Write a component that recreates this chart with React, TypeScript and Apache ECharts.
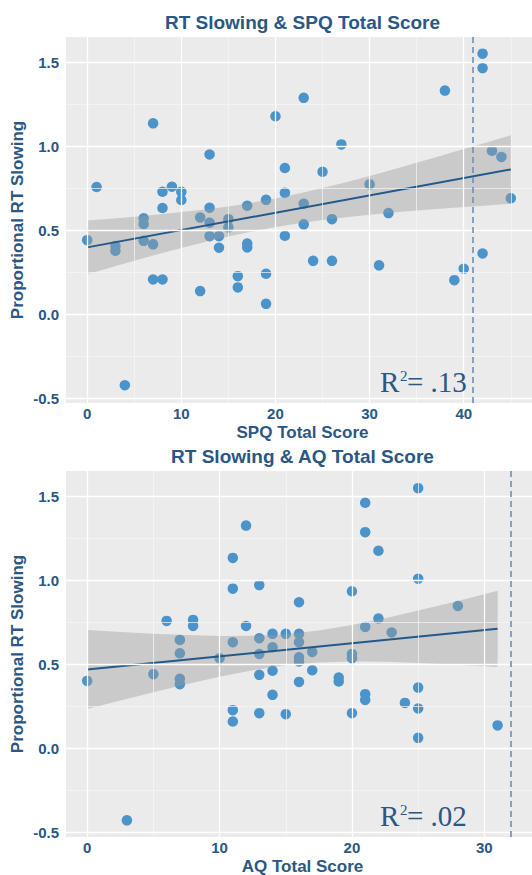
import React, { useEffect, useRef } from "react";
import * as echarts from "echarts";

// ---------- data ----------
const spqX = [0,1,3,3,4,6,6,6,7,7,7,8,8,8,9,10,10,12,12,13,13,13,13,14,14,15,15,16,16,17,17,17,19,19,19,20,21,21,21,23,23,23,24,25,26,26,27,30,31,32,38,39,40,42,42,42,43,44,45];
const spqY = [0.44,0.756,0.405,0.377,-0.423,0.57,0.536,0.436,1.135,0.415,0.206,0.728,0.631,0.206,0.758,0.728,0.679,0.575,0.137,0.95,0.633,0.544,0.464,0.464,0.395,0.565,0.516,0.226,0.159,0.645,0.42,0.397,0.68,0.24,0.061,1.177,0.869,0.722,0.466,1.287,0.657,0.534,0.317,0.847,0.565,0.317,1.01,0.772,0.29,0.601,1.33,0.202,0.27,1.55,1.464,0.361,0.972,0.935,0.689];

const aqX = [0,3,5,6,7,7,7,7,8,8,10,11,11,11,11,11,12,12,13,13,13,13,13,14,14,14,14,15,15,16,16,16,16,16,16,17,17,19,19,20,20,20,20,21,21,21,21,21,22,22,23,24,25,25,25,25,25,28,31];
const aqY = [0.40,-0.43,0.44,0.757,0.644,0.564,0.412,0.38,0.763,0.727,0.535,1.132,0.949,0.63,0.226,0.158,1.324,0.727,0.97,0.654,0.56,0.436,0.208,0.68,0.60,0.46,0.317,0.68,0.202,0.868,0.68,0.63,0.54,0.515,0.394,0.572,0.463,0.42,0.396,0.933,0.56,0.535,0.208,1.46,1.285,0.721,0.321,0.287,1.174,0.771,0.688,0.269,1.547,1.008,0.36,0.236,0.061,0.846,0.135];

// fitted lines (endpoints)
const spqFitX = [0, 45];
const spqFitY = [0.397, 0.861];
const aqFitX = [0, 31];
const aqFitY = [0.468, 0.71];

// confidence bands
const spqBandX = [0,2.5,5,7.5,10,12.5,15,17.5,20,22.5,25,27.5,30,32.5,35,37.5,40,42.5,45];
const spqBandLo = [0.237,0.278,0.317,0.356,0.394,0.429,0.462,0.492,0.518,0.541,0.560,0.576,0.591,0.604,0.616,0.627,0.637,0.647,0.657];
const spqBandHi = [0.557,0.568,0.580,0.592,0.607,0.623,0.641,0.663,0.688,0.717,0.750,0.785,0.822,0.861,0.900,0.941,0.982,1.023,1.065];

const aqBandX = [0,2.5,5,7.5,10,12.5,15,17.5,20,22.5,25,28,31];
const aqBandLo = [0.233,0.284,0.333,0.380,0.425,0.463,0.493,0.510,0.516,0.514,0.507,0.496,0.483];
const aqBandHi = [0.703,0.691,0.681,0.673,0.667,0.668,0.678,0.700,0.732,0.773,0.819,0.876,0.937];

// cut-off lines
const spqCutoff = 41;
const aqCutoff = 32;

// ticks
const spqXTicks = [0, 10, 20, 30, 40];
const spqXMinor = [5, 15, 25, 35, 45];
const aqXTicks = [0, 10, 20, 30];
const aqXMinor = [5, 15, 25];
const yTicks = [-0.5, 0, 0.5, 1.0, 1.5];
const yMinor = [-0.25, 0.25, 0.75, 1.25];

const titles = ["RT Slowing & SPQ Total Score", "RT Slowing & AQ Total Score"];
const xNames = ["SPQ Total Score", "AQ Total Score"];
const yName = "Proportional RT Slowing";
const r2Labels = ["= .13", "= .02"];

// ---------- style ----------
const TXT = "#2a5783";
const SANS = '"Liberation Sans", Arial, sans-serif';
const SERIF = '"Liberation Serif", "Times New Roman", serif';
const PT = "#4b94cb";

const GRID_LEFT = 66;
const GRID_W = 473;
const GRID_H = 366;
const TOPS = [37, 471];

function zip(a: number[], b: number[]) {
  return a.map((v, i) => [v, b[i]]);
}

function bandSeries(idx: number, bx: number[], lo: number[], hi: number[]) {
  return {
    type: "custom",
    xAxisIndex: idx,
    yAxisIndex: idx,
    z: 3,
    silent: true,
    data: [[bx[0], lo[0]]],
    renderItem: (params: any, api: any) => {
      const pts: number[][] = [];
      for (let i = 0; i < bx.length; i++) pts.push(api.coord([bx[i], hi[i]]));
      for (let i = bx.length - 1; i >= 0; i--) pts.push(api.coord([bx[i], lo[i]]));
      return {
        type: "polygon",
        shape: { points: pts },
        style: { fill: "rgba(153,153,153,0.4)", stroke: "none" },
      };
    },
  };
}

function gridSeries(idx: number, xMaj: number[], xMin: number[], cutoff: number) {
  const major = { color: "#ffffff", width: 1.3, type: "solid" };
  const minor = { color: "#f7f7f7", width: 0.7, type: "solid" };
  return [
    {
      type: "line",
      xAxisIndex: idx,
      yAxisIndex: idx,
      data: [],
      z: 1,
      silent: true,
      markLine: {
        silent: true,
        symbol: "none",
        animation: false,
        label: { show: false },
        data: [
          ...xMin.map((v) => ({ xAxis: v, lineStyle: minor })),
          ...yMinor.map((v) => ({ yAxis: v, lineStyle: minor })),
          ...xMaj.map((v) => ({ xAxis: v, lineStyle: major })),
          ...yTicks.map((v) => ({ yAxis: v, lineStyle: major })),
        ],
      },
    },
    {
      type: "line",
      xAxisIndex: idx,
      yAxisIndex: idx,
      data: [],
      z: 5,
      silent: true,
      markLine: {
        silent: true,
        symbol: "none",
        animation: false,
        label: { show: false },
        data: [{ xAxis: cutoff, lineStyle: { color: "#6f8fb5", width: 1.6, type: [6, 4] } }],
      },
    },
  ];
}

function xAxisFor(idx: number, min: number, max: number, ticks: number[]) {
  return {
    type: "value",
    gridIndex: idx,
    min,
    max,
    axisLine: { show: false },
    axisTick: { show: true, length: 4, lineStyle: { color: "#333333", width: 1 }, customValues: ticks },
    axisLabel: {
      customValues: ticks,
      color: TXT,
      fontFamily: SANS,
      fontWeight: "bold",
      fontSize: 15,
      margin: 3,
      formatter: (v: number) => String(v),
    },
    splitLine: { show: false },
  };
}

function yAxisFor(idx: number) {
  return {
    type: "value",
    gridIndex: idx,
    min: -0.529,
    max: 1.649,
    axisLine: { show: false },
    axisTick: { show: true, length: 4, lineStyle: { color: "#333333", width: 1 }, customValues: yTicks },
    axisLabel: {
      customValues: yTicks,
      color: TXT,
      fontFamily: SANS,
      fontWeight: "bold",
      fontSize: 15,
      margin: 7,
      formatter: (v: number) => v.toFixed(1),
    },
    splitLine: { show: false },
  };
}

function txt(text: string, x: number, y: number, font: string, extra: any = {}) {
  return {
    type: "text",
    x,
    y,
    silent: true,
    z: 10,
    ...extra,
    style: {
      text,
      fill: TXT,
      font,
      align: extra.align || "center",
      textAlign: extra.align || "center",
      verticalAlign: "middle",
      textVerticalAlign: "middle",
    },
  };
}

export default function App() {
  const ref = useRef<HTMLDivElement>(null);
  useEffect(() => {
    document.body.style.margin = "0";
    if (!ref.current) return;
    const chart = echarts.init(ref.current, undefined, { renderer: "svg" });
    const centerX = GRID_LEFT + GRID_W / 2;
    const graphics: any[] = [];
    TOPS.forEach((top, i) => {
      graphics.push(txt(titles[i], centerX, top - 15, `bold 19px ${SANS}`));
      graphics.push(txt(xNames[i], centerX, top + GRID_H + 29.5, `bold 17px ${SANS}`));
      graphics.push(
        txt(yName, 17, top + GRID_H / 2, `bold 17px ${SANS}`, { rotation: Math.PI / 2 })
      );
      const base = top + GRID_H - 11; // baseline for R2 text
      graphics.push(txt("R", 380, base - 9.8, `29px ${SERIF}`, { align: "left" }));
      graphics.push(txt("2", 400, base - 16, `15px ${SERIF}`, { align: "left" }));
      graphics.push(txt(r2Labels[i], 407, base - 9.8, `29px ${SERIF}`, { align: "left" }));
    });

    chart.setOption({
      animation: false,
      backgroundColor: "#ffffff",
      grid: TOPS.map((top) => ({
        left: GRID_LEFT,
        top,
        width: GRID_W,
        height: GRID_H,
        show: true,
        backgroundColor: "#ebebeb",
        borderWidth: 0,
        containLabel: false,
      })),
      xAxis: [
        xAxisFor(0, -2.25, 47.25, spqXTicks),
        xAxisFor(1, -1.6, 33.6, aqXTicks),
      ],
      yAxis: [yAxisFor(0), yAxisFor(1)],
      series: [
        ...gridSeries(0, spqXTicks, spqXMinor, spqCutoff),
        ...gridSeries(1, aqXTicks, aqXMinor, aqCutoff),
        {
          type: "scatter",
          xAxisIndex: 0,
          yAxisIndex: 0,
          z: 2,
          symbolSize: 10.5,
          itemStyle: { color: PT, opacity: 1 },
          data: zip(spqX, spqY),
        },
        {
          type: "scatter",
          xAxisIndex: 1,
          yAxisIndex: 1,
          z: 2,
          symbolSize: 10.5,
          itemStyle: { color: PT, opacity: 1 },
          data: zip(aqX, aqY),
        },
        bandSeries(0, spqBandX, spqBandLo, spqBandHi),
        bandSeries(1, aqBandX, aqBandLo, aqBandHi),
        {
          type: "line",
          xAxisIndex: 0,
          yAxisIndex: 0,
          z: 4,
          symbol: "none",
          lineStyle: { color: "#23598a", width: 2 },
          data: zip(spqFitX, spqFitY),
        },
        {
          type: "line",
          xAxisIndex: 1,
          yAxisIndex: 1,
          z: 4,
          symbol: "none",
          lineStyle: { color: "#23598a", width: 2 },
          data: zip(aqFitX, aqFitY),
        },
      ],
      graphic: graphics,
    });
    return () => chart.dispose();
  }, []);
  return <div ref={ref} style={{ width: 532, height: 875 }} />;
}
